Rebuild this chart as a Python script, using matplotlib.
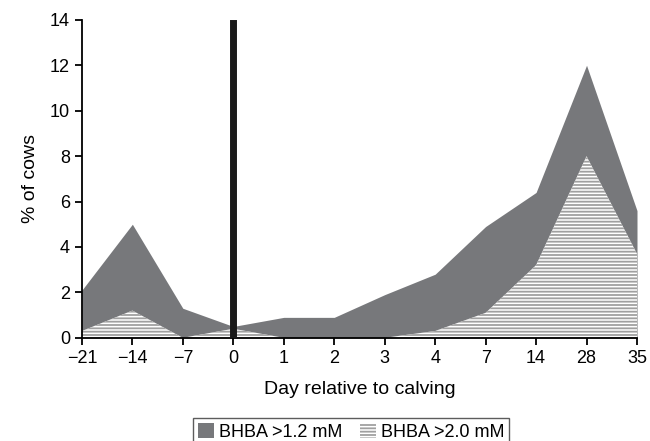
import matplotlib
matplotlib.use("Agg")
import matplotlib.pyplot as plt
import numpy as np

plt.rcParams["font.family"] = ["Liberation Sans", "DejaVu Sans"]
plt.rcParams["hatch.linewidth"] = 1.3

# data
days = ["\u221221", "\u221214", "\u22127", "0", "1", "2", "3", "4", "7", "14", "28", "35"]
bhba_12 = [2.1, 5.0, 1.3, 0.5, 0.9, 0.9, 1.9, 2.8, 4.9, 6.4, 12.0, 5.6]
bhba_20 = [0.3, 1.2, 0.0, 0.4, 0.0, 0.0, 0.0, 0.3, 1.1, 3.2, 8.0, 3.7]

x = np.arange(len(days))

fig = plt.figure(figsize=(6.5, 4.41), dpi=100)
ax = fig.add_axes([0.126, 0.234, 0.854, 0.721])

ax.fill_between(x, 0, bhba_12, color="#77787b", linewidth=0, label="BHBA >1.2 mM")
ax.fill_between(x, 0, bhba_20, facecolor="white", edgecolor="#a0a0a0",
                hatch="-----", linewidth=0, label="BHBA >2.0 mM")

# calving line
ax.axvline(3, ymin=0, ymax=13.85 / 14, color="#1a1a1a", linewidth=5, zorder=5)

ax.set_xlim(0, len(days) - 1)
ax.set_ylim(0, 14)
ax.set_xticks(x)
ax.set_xticklabels(days)
ax.set_yticks(np.arange(0, 15, 2))

for s in ["top", "right"]:
    ax.spines[s].set_visible(False)
for s in ["left", "bottom"]:
    ax.spines[s].set_linewidth(1.3)
ax.tick_params(direction="out", length=5, width=1.3, labelsize=13)

ax.set_xlabel("Day relative to calving", fontsize=14, labelpad=10)
ax.set_ylabel("% of cows", fontsize=14, labelpad=8)

fig.legend(loc="upper center", bbox_to_anchor=(0.54, 0.072), ncol=2,
           frameon=True, fancybox=False, edgecolor="#333333", fontsize=13,
           handlelength=0.9, handleheight=0.9, handletextpad=0.25,
           columnspacing=1.0, borderpad=0.25)

fig.savefig("out.png", dpi=100)
